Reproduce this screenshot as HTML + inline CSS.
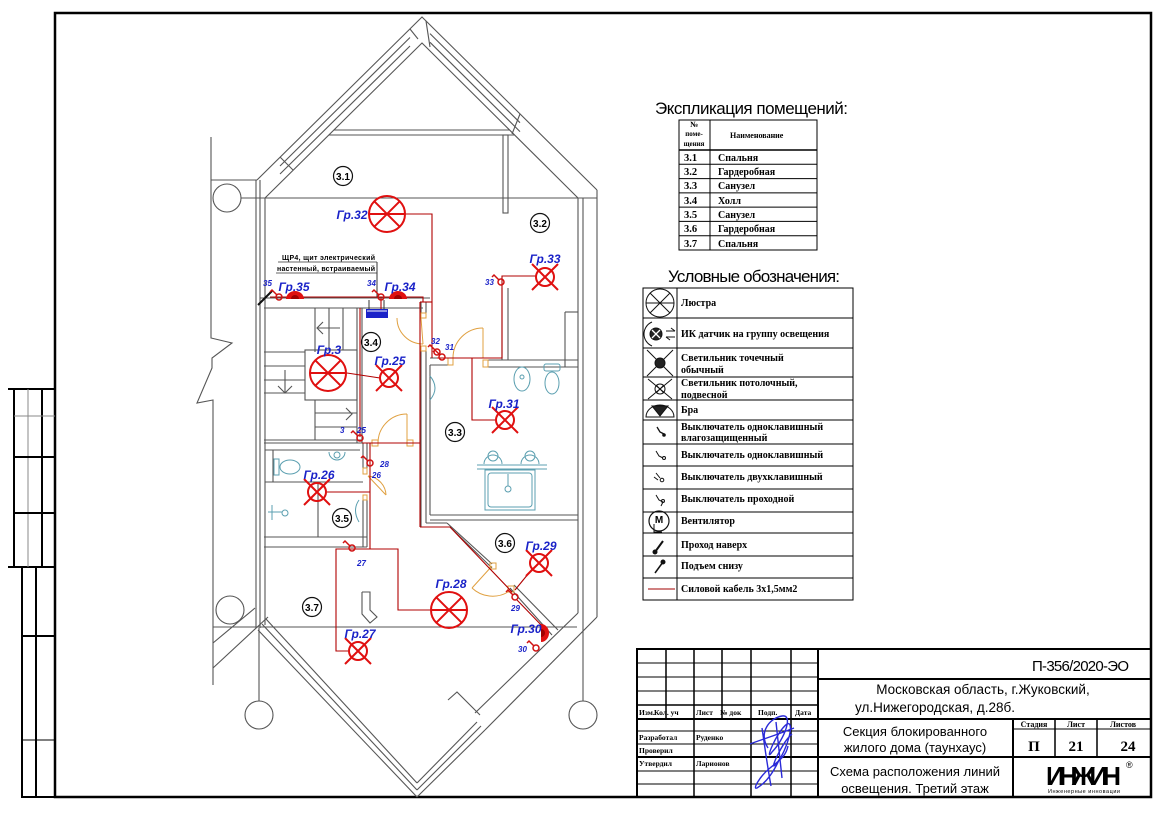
<!DOCTYPE html>
<html><head><meta charset="utf-8">
<style>
html,body{margin:0;padding:0;background:#fff;}
svg{display:block;}
text{font-family:"Liberation Sans",sans-serif;fill:#000;}
.s{font-family:"Liberation Serif",serif;font-weight:bold;}
.lbl{fill:#1a22c8;font-style:italic;font-weight:bold;font-size:12px;text-anchor:middle;}
.num{fill:#1a22c8;font-style:italic;font-weight:bold;font-size:8px;}
.rm{font-weight:bold;font-size:10px;text-anchor:middle;}
</style></head><body>
<svg width="1166" height="814" viewBox="0 0 1166 814" xmlns="http://www.w3.org/2000/svg">
<rect width="1166" height="814" fill="#fff"/>
<defs>
<g id="fx"><circle r="9" fill="none" stroke="#e01010" stroke-width="2"/><path d="M-13,-13L13,13M13,-13L-13,13" stroke="#e01010" stroke-width="2"/></g>
<g id="ch"><circle r="18" fill="none" stroke="#e01010" stroke-width="2"/><path d="M-12.7,-12.7L12.7,12.7M12.7,-12.7L-12.7,12.7M-18,0H18" stroke="#e01010" stroke-width="2"/></g>
<g id="sw"><circle r="3" fill="none" stroke="#d01010" stroke-width="1.5"/><path d="M-2,-2L-7,-7L-9,-5" fill="none" stroke="#d01010" stroke-width="1.5"/></g>
<g id="br"><path d="M-9,3A9,8 0 0 1 9,3Z" fill="#e01010"/><path d="M-4,3A4,4 0 0 1 4,3Z" fill="#a00000"/></g>
</defs>

<!-- frame -->
<rect x="55" y="13" width="1096" height="784" fill="none" stroke="#000" stroke-width="2.5"/>

<!-- left margin stamp -->
<g stroke="#000" fill="none">
<line x1="8" y1="389" x2="55" y2="389" stroke-width="2"/>
<line x1="8" y1="567" x2="55" y2="567" stroke-width="2"/>
<line x1="14" y1="389" x2="14" y2="567" stroke-width="2"/>
<line x1="28" y1="389" x2="28" y2="567" stroke="#888" stroke-width="1"/>
<line x1="42" y1="389" x2="42" y2="567" stroke-width="2"/>
<line x1="14" y1="416" x2="55" y2="416" stroke="#888" stroke-width="1"/>
<line x1="14" y1="457" x2="55" y2="457" stroke-width="2"/>
<line x1="14" y1="513" x2="55" y2="513" stroke-width="2"/>
<line x1="22" y1="567" x2="22" y2="798" stroke-width="2"/>
<line x1="36" y1="567" x2="36" y2="798" stroke-width="2"/>
<line x1="22" y1="636" x2="55" y2="636" stroke-width="2"/>
<line x1="22" y1="740" x2="55" y2="740" stroke-width="1"/>
<line x1="22" y1="797" x2="55" y2="797" stroke-width="2"/>
</g>

<!-- ================= FLOOR PLAN ================= -->
<g stroke="#555" stroke-width="1.1" fill="none">
<polyline points="257,180 422,17 597,190"/>
<polyline points="265,198 422,43 578,198"/>
<line x1="280" y1="166" x2="410" y2="37.5"/>
<line x1="280" y1="174" x2="410" y2="46"/>
<line x1="280" y1="157" x2="293" y2="170"/>
<line x1="410" y1="29" x2="418" y2="39"/>
<line x1="430" y1="33.6" x2="520" y2="122.7"/>
<line x1="430" y1="42.3" x2="520" y2="131.6"/>
<line x1="426" y1="21" x2="430" y2="47"/>
<line x1="520" y1="114" x2="512" y2="134"/>
<line x1="334" y1="130" x2="510" y2="130"/>
<line x1="329" y1="135" x2="515" y2="135"/>
<rect x="503" y="135" width="5" height="78"/>
<line x1="211" y1="180" x2="257" y2="180"/>
<line x1="241" y1="198" x2="597" y2="198"/>
<circle cx="227" cy="198" r="14"/>
<polyline points="211,137 211,338 232,343 212,358 212,368 197,403 213,400 213,685"/>
<line x1="256" y1="180" x2="256" y2="628"/>
<line x1="260" y1="180" x2="260" y2="628"/>
<line x1="265" y1="198" x2="265" y2="625"/>
<line x1="578" y1="198" x2="578" y2="613"/>
<line x1="583" y1="198" x2="583" y2="632"/>
<line x1="597" y1="190" x2="597" y2="617"/>
<line x1="213" y1="627" x2="577" y2="627"/>
<!-- bottom -->
<line x1="258" y1="630" x2="417" y2="797"/>
<line x1="262" y1="624" x2="417" y2="790"/>
<line x1="266" y1="619" x2="417" y2="783"/>
<line x1="417" y1="797" x2="485" y2="730"/>
<line x1="417" y1="790" x2="481" y2="726"/>
<line x1="417" y1="783" x2="477" y2="722"/>
<polyline points="448,700 457,692 480,715"/>
<line x1="475" y1="713" x2="578" y2="613"/>
<line x1="485" y1="730" x2="597" y2="617"/>
<circle cx="230" cy="610" r="14"/>
<circle cx="259" cy="715" r="14"/>
<circle cx="583" cy="715" r="14"/>
<line x1="259" y1="628" x2="259" y2="701"/>
<line x1="583" y1="632" x2="583" y2="701"/>
<line x1="213" y1="668" x2="268" y2="617"/>
<line x1="213" y1="643" x2="255" y2="608"/>
<!-- hall top wall -->
<line x1="260" y1="298" x2="430" y2="298"/>
<line x1="264" y1="308" x2="423" y2="308"/>
<!-- stair -->
<line x1="357" y1="308" x2="357" y2="443"/>
<line x1="362" y1="308" x2="362" y2="443"/>
<line x1="315" y1="308" x2="315" y2="352"/>
<line x1="329" y1="308" x2="329" y2="350"/>
<line x1="343" y1="308" x2="343" y2="350"/>
<line x1="264" y1="352" x2="305" y2="352"/>
<line x1="264" y1="366" x2="305" y2="366"/>
<line x1="264" y1="380" x2="305" y2="380"/>
<line x1="264" y1="393" x2="305" y2="393"/>
<rect x="305" y="350" width="52" height="50"/>
<line x1="315" y1="400" x2="315" y2="440"/>
<line x1="315" y1="413" x2="357" y2="413"/>
<line x1="315" y1="427" x2="357" y2="427"/>
<line x1="264" y1="440" x2="362" y2="440"/>
<line x1="264" y1="443" x2="367" y2="443"/>
<polyline points="323,322 317,328 323,334"/><line x1="317" y1="328" x2="340" y2="328"/>
<polyline points="278,386 285,393 292,386"/><line x1="285" y1="370" x2="285" y2="393"/>
<polyline points="346,408 352,414 346,420"/>
<!-- hall right wall -->
<line x1="421" y1="302" x2="421" y2="313"/>
<line x1="426" y1="302" x2="426" y2="313"/>
<line x1="421" y1="351" x2="421" y2="527"/>
<line x1="426" y1="351" x2="426" y2="523"/>
<line x1="430" y1="365" x2="430" y2="515"/>
<line x1="421" y1="527" x2="450" y2="527"/>
<line x1="426" y1="523" x2="447" y2="523"/>
<!-- 3.3 -->
<line x1="430" y1="358" x2="448" y2="358"/>
<line x1="430" y1="365" x2="448" y2="365"/>
<line x1="488" y1="360" x2="578" y2="360"/>
<line x1="488" y1="367" x2="578" y2="367"/>
<line x1="430" y1="515" x2="578" y2="515"/>
<line x1="430" y1="520" x2="578" y2="520"/>
<!-- 3.2 -->
<line x1="502" y1="288" x2="502" y2="360"/>
<line x1="508" y1="288" x2="508" y2="360"/>
<line x1="565" y1="312" x2="565" y2="367"/>
<line x1="565" y1="312" x2="578" y2="312"/>
<!-- 3.6 diagonal -->
<line x1="450" y1="527" x2="492" y2="568"/>
<line x1="447" y1="523" x2="492" y2="564"/>
<line x1="510" y1="588" x2="552" y2="635"/>
<line x1="514" y1="585" x2="558" y2="630"/>
<!-- 3.5 -->
<line x1="363" y1="443" x2="363" y2="468"/>
<line x1="367" y1="443" x2="367" y2="468"/>
<line x1="363" y1="500" x2="363" y2="547"/>
<line x1="367" y1="500" x2="367" y2="547"/>
<line x1="265" y1="450" x2="360" y2="450"/>
<line x1="273" y1="450" x2="273" y2="482"/>
<line x1="265" y1="482" x2="363" y2="482"/>
<line x1="318" y1="482" x2="318" y2="537"/>
<line x1="264" y1="537" x2="367" y2="537"/>
<line x1="264" y1="547" x2="367" y2="547"/>
<!-- 3.7 arrow -->
<polyline points="362,592 370,592 370,610 377,617 370,623 362,614 362,592"/>
</g>

<!-- sanitary (cyan) -->
<g stroke="#5b9fb0" stroke-width="1" fill="none">
<ellipse cx="522" cy="379" rx="8" ry="12"/><circle cx="522" cy="377" r="2"/>
<rect x="544" y="364" width="16" height="7" rx="2"/><ellipse cx="552" cy="383" rx="7" ry="11"/>
<path d="M430,376 Q440,388 430,400"/>
<line x1="477" y1="465" x2="547" y2="465"/><line x1="477" y1="469" x2="547" y2="469"/>
<path d="M484,464 A9,9 0 1 1 502,464"/><circle cx="493" cy="456" r="5"/>
<path d="M521,464 A9,9 0 1 1 539,464"/><circle cx="530" cy="456" r="5"/>
<rect x="485" y="470" width="50" height="40"/><rect x="488" y="473" width="44" height="34" rx="3"/>
<circle cx="508" cy="489" r="3"/><line x1="508" y1="474" x2="508" y2="486"/>
<rect x="274" y="459" width="5" height="16"/><ellipse cx="290" cy="467" rx="10" ry="7"/>
<path d="M329,452 A8,8 0 0 0 345,452"/><circle cx="337" cy="455" r="3"/>
<path d="M272,505 L272,520 M268,512 L282,512"/><circle cx="285" cy="513" r="3"/>
<path d="M359,500 Q352,510 359,522"/>
</g>

<!-- doors (orange) -->
<g stroke="#e0a040" stroke-width="1" fill="none">
<path d="M397,318 A26,26 0 0 0 423,344"/><line x1="421" y1="318" x2="423" y2="344"/>
<rect x="421" y="313" width="5" height="5"/><rect x="421" y="346" width="5" height="5"/>
<path d="M453,358 A30,30 0 0 1 483,328"/><line x1="483" y1="328" x2="483" y2="358"/>
<rect x="448" y="358" width="5" height="7"/><rect x="483" y="360" width="5" height="7"/>
<path d="M378,443 A29,29 0 0 1 407,414"/><line x1="407" y1="414" x2="407" y2="443"/>
<rect x="372" y="440" width="6" height="6"/><rect x="407" y="440" width="6" height="6"/>
<path d="M368,476 A20,20 0 0 1 386,495"/><line x1="368" y1="476" x2="386" y2="495"/>
<rect x="363" y="468" width="4" height="6"/><rect x="363" y="495" width="4" height="5"/>
<line x1="492" y1="566" x2="472" y2="588"/>
<path d="M472,588 A30,30 0 0 0 508,592"/>
<rect x="490" y="563" width="6" height="6"/><rect x="508" y="586" width="6" height="6"/>
</g>

<!-- wiring -->
<g stroke="#b00000" stroke-width="1.1" fill="none">
<polyline points="405,214 432,214 432,358"/>
<polyline points="270,297 423,297 423,302"/>
<line x1="420" y1="302" x2="432" y2="302"/>
<line x1="420" y1="302" x2="420" y2="527"/>
<polyline points="437,358 502,358 502,276 536,276"/>
<polyline points="472,358 472,420 495,420"/>
<line x1="347" y1="373" x2="380" y2="378"/>
<line x1="360" y1="308" x2="360" y2="437"/>
<polyline points="362,443 420,443"/>
<line x1="370" y1="443" x2="370" y2="549"/>
<line x1="327" y1="492" x2="370" y2="492"/>
<polyline points="370,549 336,549 336,651 348,651"/>
<polyline points="336,549 398,549 398,610 430,610"/>
<polyline points="420,527 450,527 512,592"/>
<line x1="515" y1="590" x2="533" y2="568"/>
<line x1="517" y1="600" x2="546" y2="630"/>
<line x1="381" y1="297" x2="381" y2="309"/>
</g>

<!-- panel ЩР4 -->
<g>
<line x1="377" y1="262" x2="377" y2="297" stroke="#333" stroke-width="1"/>
<line x1="369" y1="300" x2="369" y2="309" stroke="#333" stroke-width="1"/>
<line x1="384" y1="300" x2="384" y2="309" stroke="#333" stroke-width="1"/>
<rect x="366" y="309" width="22" height="9" fill="#1a22c8"/>
<line x1="367" y1="311" x2="387" y2="311" stroke="#fff" stroke-width="1"/>
<line x1="278" y1="262" x2="377" y2="262" stroke="#333" stroke-width="0.8"/>
<line x1="276" y1="273" x2="377" y2="273" stroke="#333" stroke-width="0.8"/>
<text x="282" y="260" font-size="7" font-weight="bold" textLength="93">ЩР4, щит электрический</text>
<text x="277" y="271" font-size="7" font-weight="bold" textLength="98">настенный, встраиваемый</text>
<line x1="258" y1="305" x2="272" y2="291" stroke="#111" stroke-width="2"/>
</g>

<!-- fixtures -->
<use href="#ch" x="387" y="214"/>
<use href="#ch" x="328" y="373"/>
<use href="#ch" x="449" y="610"/>
<use href="#fx" x="545" y="277"/>
<use href="#fx" x="389" y="378"/>
<use href="#fx" x="505" y="420"/>
<use href="#fx" x="317" y="492"/>
<use href="#fx" x="358" y="651"/>
<use href="#fx" x="539" y="563"/>
<use href="#br" x="295" y="296"/>
<use href="#br" x="398" y="296"/>
<g transform="translate(544,633) rotate(90)"><use href="#br"/></g>
<use href="#sw" x="279" y="297"/>
<use href="#sw" x="381" y="297"/>
<use href="#sw" x="501" y="282"/>
<use href="#sw" x="442" y="357"/>
<use href="#sw" x="437" y="352"/>
<use href="#sw" x="360" y="438"/>
<use href="#sw" x="370" y="463"/>
<use href="#sw" x="352" y="548"/>
<use href="#sw" x="515" y="597"/>
<use href="#sw" x="536" y="648"/>

<!-- labels -->
<text class="lbl" x="352" y="219">Гр.32</text>
<text class="lbl" x="545" y="263">Гр.33</text>
<text class="lbl" x="294" y="291">Гр.35</text>
<text class="lbl" x="400" y="291">Гр.34</text>
<text class="lbl" x="329" y="354">Гр.3</text>
<text class="lbl" x="390" y="365">Гр.25</text>
<text class="lbl" x="504" y="408">Гр.31</text>
<text class="lbl" x="319" y="479">Гр.26</text>
<text class="lbl" x="451" y="588">Гр.28</text>
<text class="lbl" x="360" y="638">Гр.27</text>
<text class="lbl" x="541" y="550">Гр.29</text>
<text class="lbl" x="526" y="633">Гр.30</text>
<text class="num" x="263" y="286">35</text>
<text class="num" x="367" y="286">34</text>
<text class="num" x="485" y="285">33</text>
<text class="num" x="431" y="344">32</text>
<text class="num" x="445" y="350">31</text>
<text class="num" x="340" y="433">3</text>
<text class="num" x="357" y="433">25</text>
<text class="num" x="380" y="467">28</text>
<text class="num" x="372" y="478">26</text>
<text class="num" x="357" y="566">27</text>
<text class="num" x="511" y="611">29</text>
<text class="num" x="518" y="652">30</text>

<!-- room circles -->
<g fill="none" stroke="#111" stroke-width="1.2">
<circle cx="343" cy="176" r="9.5"/><circle cx="540" cy="223" r="9.5"/>
<circle cx="371" cy="342" r="9.5"/><circle cx="455" cy="432" r="9.5"/>
<circle cx="342" cy="518" r="9.5"/><circle cx="505" cy="543" r="9.5"/>
<circle cx="312" cy="607" r="9.5"/>
</g>
<text class="rm" x="343" y="180">3.1</text>
<text class="rm" x="540" y="227">3.2</text>
<text class="rm" x="371" y="346">3.4</text>
<text class="rm" x="455" y="436">3.3</text>
<text class="rm" x="342" y="522">3.5</text>
<text class="rm" x="505" y="547">3.6</text>
<text class="rm" x="312" y="611">3.7</text>

<!-- ================= EXPLICATION TABLE ================= -->
<text x="655" y="114" font-size="17" textLength="193">Экспликация помещений:</text>
<g stroke="#000" stroke-width="1" fill="none">
<rect x="679" y="120" width="138" height="130"/>
<line x1="710" y1="120" x2="710" y2="250"/>
<line x1="679" y1="150" x2="817" y2="150" stroke-width="1.5"/>
<line x1="679" y1="164.3" x2="817" y2="164.3"/>
<line x1="679" y1="178.6" x2="817" y2="178.6"/>
<line x1="679" y1="192.9" x2="817" y2="192.9"/>
<line x1="679" y1="207.1" x2="817" y2="207.1"/>
<line x1="679" y1="221.4" x2="817" y2="221.4"/>
<line x1="679" y1="235.7" x2="817" y2="235.7"/>
</g>
<text class="s" x="694" y="127" text-anchor="middle" font-size="8">№</text>
<text class="s" x="694" y="136" text-anchor="middle" font-size="7">поме-</text>
<text class="s" x="694" y="146" text-anchor="middle" font-size="7">щения</text>
<text class="s" x="730" y="138" font-size="8">Наименование</text>
<text class="s" x="684" y="161" font-size="10.5">3.1</text><text class="s" x="718" y="161" font-size="10">Спальня</text>
<text class="s" x="684" y="175" font-size="10.5">3.2</text><text class="s" x="718" y="175" font-size="10">Гардеробная</text>
<text class="s" x="684" y="189" font-size="10.5">3.3</text><text class="s" x="718" y="189" font-size="10">Санузел</text>
<text class="s" x="684" y="204" font-size="10.5">3.4</text><text class="s" x="718" y="204" font-size="10">Холл</text>
<text class="s" x="684" y="218" font-size="10.5">3.5</text><text class="s" x="718" y="218" font-size="10">Санузел</text>
<text class="s" x="684" y="232" font-size="10.5">3.6</text><text class="s" x="718" y="232" font-size="10">Гардеробная</text>
<text class="s" x="684" y="247" font-size="10.5">3.7</text><text class="s" x="718" y="247" font-size="10">Спальня</text>

<!-- ================= LEGEND ================= -->
<text x="668" y="282" font-size="17" textLength="172">Условные обозначения:</text>
<g stroke="#000" stroke-width="1" fill="none">
<rect x="643" y="288" width="210" height="312"/>
<line x1="677" y1="288" x2="677" y2="600"/>
<line x1="643" y1="318" x2="853" y2="318"/>
<line x1="643" y1="348" x2="853" y2="348"/>
<line x1="643" y1="377" x2="853" y2="377"/>
<line x1="643" y1="400" x2="853" y2="400"/>
<line x1="643" y1="420" x2="853" y2="420"/>
<line x1="643" y1="444" x2="853" y2="444"/>
<line x1="643" y1="466" x2="853" y2="466"/>
<line x1="643" y1="489" x2="853" y2="489"/>
<line x1="643" y1="512" x2="853" y2="512"/>
<line x1="643" y1="533" x2="853" y2="533"/>
<line x1="643" y1="556" x2="853" y2="556"/>
<line x1="643" y1="578" x2="853" y2="578"/>
</g>
<!-- legend icons -->
<g stroke="#111" stroke-width="1" fill="none">
<circle cx="660" cy="303" r="14"/><path d="M650,293L670,313M670,293L650,313M646,303H674"/>
<path d="M652,322A13,13 0 0 0 652,346"/>
<circle cx="656" cy="334" r="6" fill="#222"/>
<path d="M652,330L660,338M660,330L652,338" stroke="#fff" stroke-width="1.3"/>
<path d="M666,331H675M671,328L675,331M666,337H675M666,337L670,340"/>
<path d="M647,350L673,376M673,350L647,376"/><circle cx="660" cy="363" r="5" fill="#222"/>
<path d="M648,379L672,399M672,379L648,399"/><circle cx="660" cy="389" r="5"/><path d="M656,385L664,393M664,385L656,393"/>
<path d="M646,417A14,12 0 0 1 674,417Z"/><path d="M652,406L668,406L660,416Z" fill="#222"/>
<path d="M657,427L660,432L664,434" stroke-width="1.3"/><circle cx="664" cy="435" r="1.3" fill="#111"/>
<path d="M656,451L659,456L663,458"/><circle cx="664" cy="458" r="1.5"/>
<path d="M656,473L660,478M654,477L658,480"/><circle cx="662" cy="480" r="1.8"/>
<path d="M656,495L659,500L663,502L661,506"/><circle cx="663" cy="501" r="1.5"/>
<circle cx="659" cy="521" r="10" stroke-width="1.2"/><path d="M654,524V532H662"/>
<path d="M655,552L663,541" stroke-width="2"/><circle cx="655" cy="552" r="2" fill="#111"/>
<path d="M655,573L663,562" stroke-width="1.5"/><circle cx="663" cy="562" r="2" fill="#111"/>
<line x1="648" y1="589" x2="675" y2="589" stroke="#a00000"/>
</g>
<text x="659" y="523" font-size="10" font-weight="bold" text-anchor="middle">M</text>
<text class="s" x="681" y="306" font-size="10">Люстра</text>
<text class="s" x="681" y="337" font-size="10">ИК датчик на группу освещения</text>
<text class="s" x="681" y="361" font-size="10">Светильник точечный</text>
<text class="s" x="681" y="373" font-size="10">обычный</text>
<text class="s" x="681" y="386" font-size="10">Светильник потолочный,</text>
<text class="s" x="681" y="398" font-size="10">подвесной</text>
<text class="s" x="681" y="413" font-size="10">Бра</text>
<text class="s" x="681" y="430" font-size="10">Выключатель одноклавишный</text>
<text class="s" x="681" y="441" font-size="10">влагозащищенный</text>
<text class="s" x="681" y="458" font-size="10">Выключатель одноклавишный</text>
<text class="s" x="681" y="480" font-size="10">Выключатель двухклавишный</text>
<text class="s" x="681" y="502" font-size="10">Выключатель проходной</text>
<text class="s" x="681" y="524" font-size="10">Вентилятор</text>
<text class="s" x="681" y="548" font-size="10">Проход наверх</text>
<text class="s" x="681" y="569" font-size="10">Подъем снизу</text>
<text class="s" x="681" y="592" font-size="10">Силовой кабель 3х1,5мм2</text>

<!-- ================= TITLE BLOCK ================= -->
<g stroke="#000" fill="none">
<rect x="637" y="649" width="514" height="148" stroke-width="2"/>
<line x1="818" y1="649" x2="818" y2="797" stroke-width="2"/>
<line x1="666" y1="649" x2="666" y2="719" stroke-width="1.5"/>
<line x1="722" y1="649" x2="722" y2="719" stroke-width="1.5"/>
<line x1="694" y1="649" x2="694" y2="797" stroke-width="1.5"/>
<line x1="751" y1="649" x2="751" y2="797" stroke-width="1.5"/>
<line x1="791" y1="649" x2="791" y2="797" stroke-width="1.5"/>
<line x1="637" y1="663" x2="818" y2="663"/>
<line x1="637" y1="677" x2="818" y2="677"/>
<line x1="637" y1="691" x2="818" y2="691"/>
<line x1="637" y1="705" x2="818" y2="705" stroke-width="1.5"/>
<line x1="637" y1="719" x2="1151" y2="719" stroke-width="2"/>
<line x1="637" y1="731" x2="818" y2="731"/>
<line x1="637" y1="744" x2="818" y2="744"/>
<line x1="637" y1="757" x2="1151" y2="757" stroke-width="2"/>
<line x1="637" y1="771" x2="818" y2="771"/>
<line x1="637" y1="784" x2="818" y2="784"/>
<line x1="818" y1="679" x2="1151" y2="679" stroke-width="2"/>
<line x1="1013" y1="719" x2="1013" y2="797" stroke-width="2"/>
<line x1="1055" y1="719" x2="1055" y2="757" stroke-width="1.5"/>
<line x1="1097" y1="719" x2="1097" y2="757" stroke-width="1.5"/>
<line x1="1013" y1="729" x2="1151" y2="729" stroke-width="1"/>
</g>
<text class="s" x="639" y="715" font-size="7.5">Изм.</text>
<text class="s" x="654" y="715" font-size="7.5">Кол. уч</text>
<text class="s" x="696" y="715" font-size="7.5">Лист</text>
<text class="s" x="720" y="715" font-size="7.5">№ док</text>
<text class="s" x="758" y="715" font-size="7.5">Подп.</text>
<text class="s" x="795" y="715" font-size="7.5">Дата</text>
<text class="s" x="639" y="740" font-size="7.5">Разработал</text>
<text class="s" x="696" y="740" font-size="7.5">Руденко</text>
<text class="s" x="639" y="753" font-size="7.5">Проверил</text>
<text class="s" x="639" y="766" font-size="7.5">Утвердил</text>
<text class="s" x="696" y="766" font-size="7.5">Ларионов</text>
<path d="M768,748 C758,732 770,718 782,716 C794,714 784,740 772,752 C764,764 776,732 787,724 C795,720 788,750 776,764 C768,774 782,742 792,734 M780,758 C772,776 764,784 757,788 C752,790 760,776 770,768 C780,760 786,756 788,746 M750,744 C760,740 774,736 794,728 M762,728 C765,748 767,764 771,786 M776,722 C778,740 780,760 782,778" fill="none" stroke="#2a2ad8" stroke-width="1.4"/>
<text x="1032" y="671" font-size="15" textLength="97">П-356/2020-ЭО</text>
<text x="983" y="694" font-size="13.5" text-anchor="middle">Московская область, г.Жуковский,</text>
<text x="855" y="712" font-size="13.5">ул.Нижегородская, д.28б.</text>
<text x="915" y="736" font-size="13" text-anchor="middle">Секция блокированного</text>
<text x="915" y="752" font-size="13" text-anchor="middle">жилого дома (таунхаус)</text>
<text x="915" y="776" font-size="13" text-anchor="middle">Схема расположения линий</text>
<text x="915" y="793" font-size="13" text-anchor="middle">освещения. Третий этаж</text>
<text class="s" x="1034" y="727" font-size="8" text-anchor="middle">Стадия</text>
<text class="s" x="1076" y="727" font-size="8" text-anchor="middle">Лист</text>
<text class="s" x="1123" y="727" font-size="8" text-anchor="middle">Листов</text>
<text class="s" x="1034" y="751" font-size="15" text-anchor="middle">П</text>
<text class="s" x="1076" y="751" font-size="15" text-anchor="middle">21</text>
<text class="s" x="1128" y="751" font-size="15" text-anchor="middle">24</text>
<text x="1046" y="785" font-size="26" font-weight="bold" textLength="75" fill="#111">ИНЖИН</text>
<text x="1048" y="793" font-size="5.5" fill="#3aa040" textLength="72">Инженерные инновации</text>
<text x="1126" y="768" font-size="9" fill="#333">®</text>
</svg>
</body></html>
